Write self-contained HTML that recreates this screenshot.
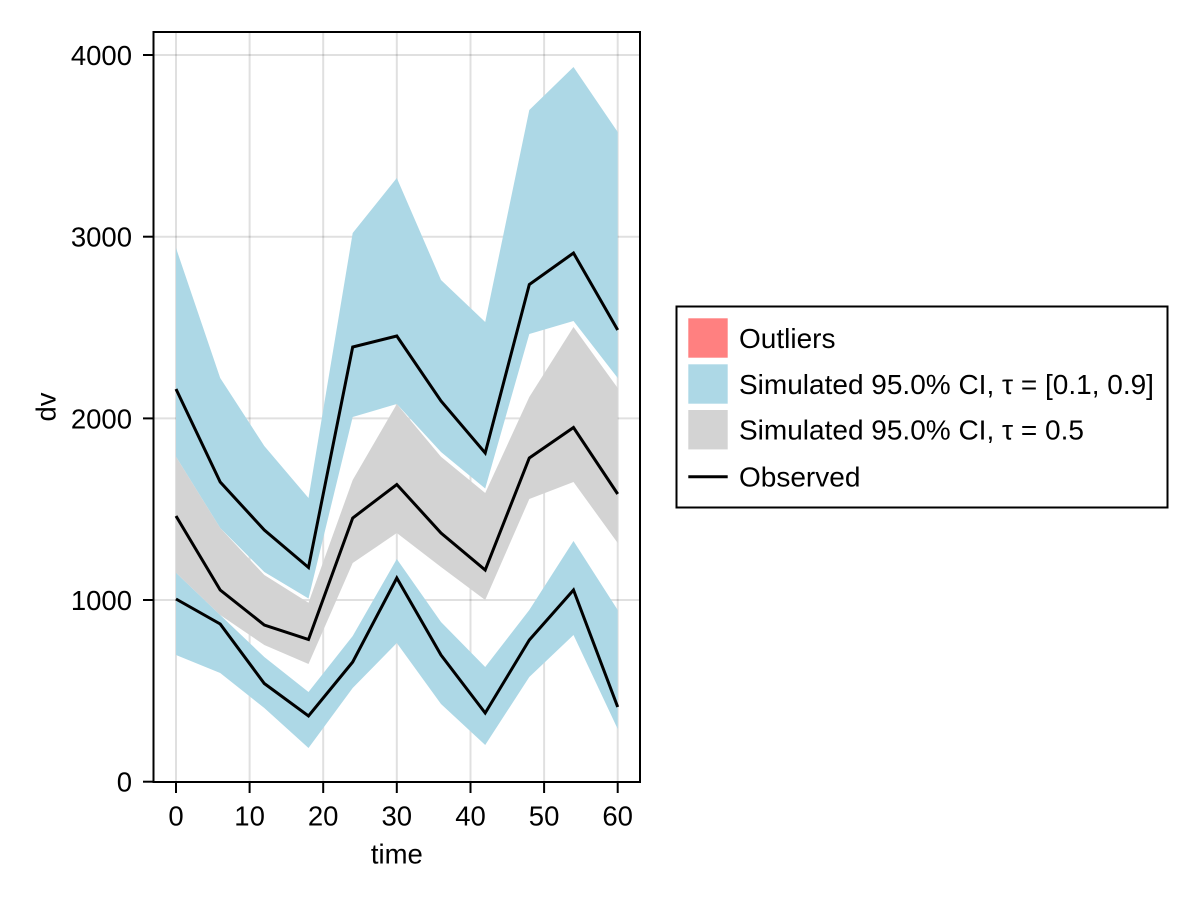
<!DOCTYPE html>
<html><head><meta charset="utf-8"><style>
html,body{margin:0;padding:0;background:#fff;}
svg{display:block;}
text{font-family:"Liberation Sans",Arial,sans-serif;fill:#000;}
</style></head><body>
<svg width="1200" height="900" viewBox="0 0 1200 900" xmlns="http://www.w3.org/2000/svg">
<rect width="1200" height="900" fill="#fff"/>
<!-- grid -->
<g stroke="#000" stroke-opacity="0.12" stroke-width="2">
<line x1="176" y1="32" x2="176" y2="782"/>
<line x1="249.6" y1="32" x2="249.6" y2="782"/>
<line x1="323.2" y1="32" x2="323.2" y2="782"/>
<line x1="396.8" y1="32" x2="396.8" y2="782"/>
<line x1="470.5" y1="32" x2="470.5" y2="782"/>
<line x1="544.1" y1="32" x2="544.1" y2="782"/>
<line x1="617.7" y1="32" x2="617.7" y2="782"/>
<line x1="154" y1="55" x2="640" y2="55"/>
<line x1="154" y1="236.7" x2="640" y2="236.7"/>
<line x1="154" y1="418.4" x2="640" y2="418.4"/>
<line x1="154" y1="600" x2="640" y2="600"/>
</g>
<!-- upper blue band -->
<polygon fill="#add8e6" points="176,248 220.2,378 264.3,446 308.5,498 352.7,233 396.8,178 441,280 485.2,322 529.3,110 573.5,67 617.7,132 617.7,378 573.5,321 529.3,334 485.2,488.5 441,452 396.8,404 352.7,417 308.5,598.5 264.3,572 220.2,528 176,456.7"/>
<!-- lower blue band -->
<polygon fill="#add8e6" points="176,572.7 220.2,615 264.3,657 308.5,692 352.7,636 396.8,559 441,622 485.2,667 529.3,610 573.5,541 617.7,610 617.7,729 573.5,635 529.3,677 485.2,745 441,704 396.8,643 352.7,688 308.5,748 264.3,708 220.2,673 176,655"/>
<!-- grey band -->
<polygon fill="#d3d3d3" points="176,456.7 220.2,528 264.3,575 308.5,602.7 352.7,480 396.8,404 441,456.7 485.2,493 529.3,397 573.5,327 617.7,388 617.7,543 573.5,482 529.3,499 485.2,600 441,567 396.8,533 352.7,563 308.5,664 264.3,645 220.2,615 176,572.7"/>
<!-- observed lines -->
<g fill="none" stroke="#000" stroke-width="3" stroke-linejoin="miter">
<polyline points="176,389 220.2,482 264.3,530 308.5,567.5 352.7,347 396.8,336 441,401 485.2,453 529.3,284.5 573.5,253 617.7,330"/>
<polyline points="176,516 220.2,590 264.3,625 308.5,639.5 352.7,518 396.8,484.5 441,533 485.2,570 529.3,458 573.5,427.5 617.7,494"/>
<polyline points="176,599 220.2,624 264.3,683.5 308.5,716 352.7,662 396.8,578 441,655 485.2,713 529.3,640 573.5,590 617.7,707"/>
</g>
<!-- spines -->
<rect x="153.5" y="32" width="486.5" height="750" fill="none" stroke="#000" stroke-width="2"/>
<!-- ticks -->
<g stroke="#000" stroke-width="2">
<line x1="143" y1="55" x2="153" y2="55"/>
<line x1="143" y1="236.7" x2="153" y2="236.7"/>
<line x1="143" y1="418.4" x2="153" y2="418.4"/>
<line x1="143" y1="600" x2="153" y2="600"/>
<line x1="143" y1="781.7" x2="153" y2="781.7"/>
<line x1="176" y1="783" x2="176" y2="793"/>
<line x1="249.6" y1="783" x2="249.6" y2="793"/>
<line x1="323.2" y1="783" x2="323.2" y2="793"/>
<line x1="396.8" y1="783" x2="396.8" y2="793"/>
<line x1="470.5" y1="783" x2="470.5" y2="793"/>
<line x1="544.1" y1="783" x2="544.1" y2="793"/>
<line x1="617.7" y1="783" x2="617.7" y2="793"/>
</g>
<!-- y tick labels -->
<g font-size="27.5" text-anchor="end">
<text x="132" y="65">4000</text>
<text x="132" y="246.7">3000</text>
<text x="132" y="428.4">2000</text>
<text x="132" y="610">1000</text>
<text x="132" y="791.7">0</text>
</g>
<!-- x tick labels -->
<g font-size="27.5" text-anchor="middle">
<text x="176" y="825.5">0</text>
<text x="249.6" y="825.5">10</text>
<text x="323.2" y="825.5">20</text>
<text x="396.8" y="825.5">30</text>
<text x="470.5" y="825.5">40</text>
<text x="544.1" y="825.5">50</text>
<text x="617.7" y="825.5">60</text>
</g>
<text x="396.8" y="863.5" font-size="27.5" text-anchor="middle">time</text>
<text transform="translate(55.5,407) rotate(-90)" font-size="27.5" text-anchor="middle">dv</text>
<!-- legend -->
<rect x="676.5" y="306.5" width="491" height="201" fill="#fff" stroke="#000" stroke-width="2"/>
<rect x="688.3" y="318.3" width="39.4" height="39.4" fill="#ff8080"/>
<rect x="688.3" y="364.3" width="39.4" height="39.4" fill="#add8e6"/>
<rect x="688.3" y="410" width="39.4" height="39.4" fill="#d3d3d3"/>
<line x1="688.3" y1="476.7" x2="727.7" y2="476.7" stroke="#000" stroke-width="3"/>
<g font-size="28">
<text x="739" y="348">Outliers</text>
<text x="739" y="393.8">Simulated 95.0% CI, τ = [0.1, 0.9]</text>
<text x="739" y="439.6">Simulated 95.0% CI, τ = 0.5</text>
<text x="739" y="486.3">Observed</text>
</g>
</svg>
</body></html>
